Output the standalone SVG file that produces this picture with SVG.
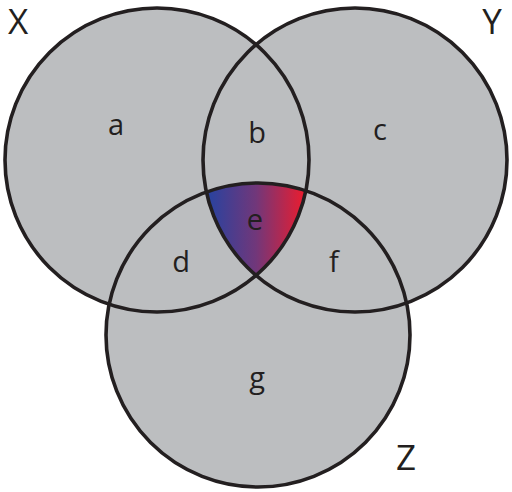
<svg xmlns="http://www.w3.org/2000/svg" width="512" height="492" viewBox="0 0 512 492">
  <style>
    .fill { fill: #bcbec0; stroke: none; }
    .ring { fill: none; stroke: #231f20; stroke-width: 3.6; }
    .lbl { font-family: "Open Sans", "Liberation Sans", sans-serif; fill: #231f20; text-anchor: middle; }
    .set { font-size: 35px; }
    .reg { font-size: 29px; }
  </style>
  <defs>
    <linearGradient id="eGrad" gradientUnits="userSpaceOnUse" x1="207" y1="0" x2="305" y2="0">
      <stop offset="0" stop-color="#2743a0"/>
      <stop offset="0.5" stop-color="#71377a"/>
      <stop offset="1" stop-color="#ec1c2e"/>
    </linearGradient>
    <clipPath id="clipY"><circle cx="355" cy="160" r="152"/></clipPath>
    <clipPath id="clipZ"><circle cx="258" cy="335" r="152"/></clipPath>
  </defs>

  <g id="fills">
    <circle class="fill" cx="157" cy="160" r="152"/>
    <circle class="fill" cx="355" cy="160" r="152"/>
    <circle class="fill" cx="258" cy="335" r="152"/>
  </g>

  <g id="region-e-fill" clip-path="url(#clipY)">
    <g clip-path="url(#clipZ)">
      <circle cx="157" cy="160" r="152" fill="url(#eGrad)"/>
    </g>
  </g>

  <g id="X">
    <circle class="ring" cx="157" cy="160" r="152"/>
    <text class="lbl set" x="18" y="34">X</text>
  </g>
  <g id="Y">
    <circle class="ring" cx="355" cy="160" r="152"/>
    <text class="lbl set" x="492" y="34">Y</text>
  </g>
  <g id="Z">
    <circle class="ring" cx="258" cy="335" r="152"/>
    <text class="lbl set" x="406" y="470">Z</text>
  </g>

  <g id="regions">
    <text class="lbl reg" x="116" y="135">a</text>
    <text class="lbl reg" x="257" y="143">b</text>
    <text class="lbl reg" x="380" y="140">c</text>
    <text class="lbl reg" x="181" y="272">d</text>
    <text class="lbl reg" x="255" y="230">e</text>
    <text class="lbl reg" x="334" y="272">f</text>
    <text class="lbl reg" x="257" y="388">g</text>
  </g>
</svg>
